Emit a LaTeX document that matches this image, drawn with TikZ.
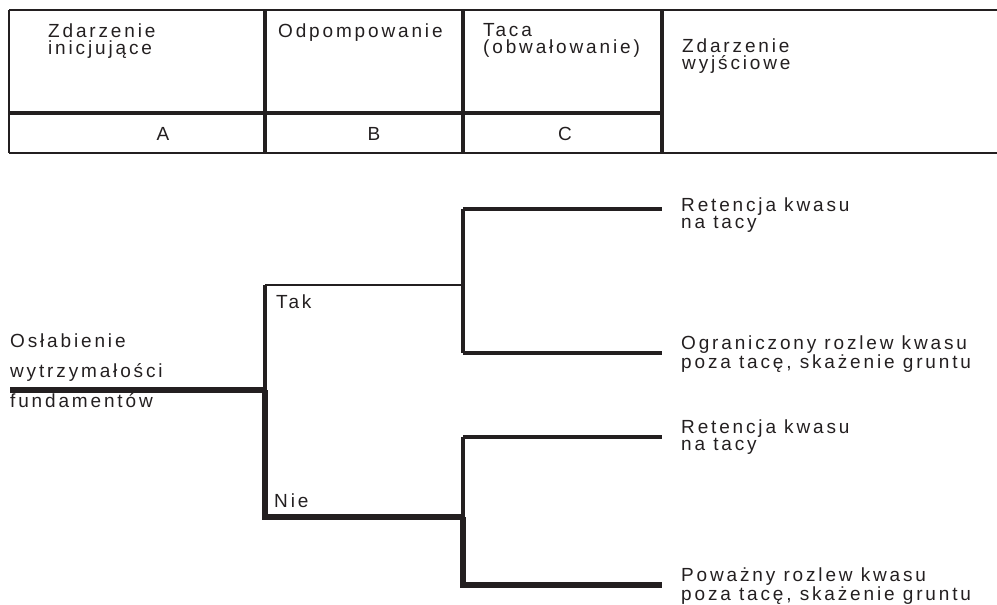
\documentclass[tikz,border=0pt]{standalone}
\usepackage{fontspec}
\usepackage{tikz}
\usetikzlibrary{positioning}
\newfontfamily\treefont{Liberation Sans}[LetterSpace=15]
\definecolor{ink}{HTML}{231F20}

\begin{document}
\begin{tikzpicture}[x=1pt, y=-1pt,
    txt/.style={inner sep=0pt, anchor=base west, align=left, text=ink,
      font=\treefont\fontsize{19}{17}\selectfont},
    thinline/.style={draw=ink, line width=2pt},
    midline/.style={draw=ink, line width=3.2pt},
    boldline/.style={draw=ink, line width=5.5pt}]
  \useasboundingbox (0,0) rectangle (997,605);

  % Header table
  \draw[thinline] (9,10) -- (997,10);
  \draw[thinline] (9,153) -- (997,153);
  \draw[thinline] (9,10) -- (9,153);
  \draw[midline] (9,113) -- (662,113);
  \foreach \xc in {265,463,662}
    \draw[midline] (\xc,10) -- (\xc,153);

  % (multi-line nodes sit on the baseline of their last line)
  \node[txt] (hA) at (48,54) {Zdarzenie\\inicjujące};
  \node[txt] (hB) at (278,37) {Odpompowanie};
  \node[txt] (hC) at (483,53) {Taca\\(obwałowanie)};
  \node[txt] (hOut) at (682,69) {Zdarzenie\\wyjściowe};
  \node[txt, anchor=base] (lA) at (163,140) {A};
  \node[txt, anchor=base] (lB) at (374,140) {B};
  \node[txt, anchor=base] (lC) at (565,140) {C};

  % Branch points
  \coordinate (root) at (10,390);
  \coordinate (split) at (265,390);
  \coordinate (tak) at (265,285);
  \coordinate (nie) at (265,517);
  \coordinate (takC) at (463,285);
  \coordinate (nieC) at (463,517);
  \coordinate (tt) at (463,209);
  \coordinate (tn) at (463,353);
  \coordinate (nt) at (463,437);
  \coordinate (nn) at (463,585);
  \coordinate (out1) at (662,209);
  \coordinate (out2) at (662,353);
  \coordinate (out3) at (662,437);
  \coordinate (out4) at (662,585);

  % Tree
  \draw[boldline] (root) -- (split);
  \draw[midline] (split) -- (tak);
  \draw[thinline] (tak) -- (takC);
  \draw[boldline] (split) -- (nie) -- (nieC);
  \draw[midline] (tt) -- (tn);
  \draw[midline] (tt) -- (out1);
  \draw[midline] (tn) -- (out2);
  \draw[midline] (nt) -- (nieC);
  \draw[midline] (nt) -- (out3);
  \draw[boldline] (nieC) -- (nn) -- (out4);

  % Labels
  \node[txt] (init1) at (10,347) {Osłabienie};
  \node[txt] (init2) at (10,377) {wytrzymałości};
  \node[txt] (init3) at (10,407) {fundamentów};
  \node[txt] (ltak) at (276,308) {Tak};
  \node[txt] (lnie) at (274,507) {Nie};

  \node[txt] (res1) at (681,228) {Retencja kwasu\\na tacy};
  \node[txt] (res2) at (681,368) {Ograniczony rozlew kwasu\\poza tacę, skażenie gruntu};
  \node[txt] (res3) at (681,450) {Retencja kwasu\\na tacy};
  \node[txt] (res4) at (681,600) {Poważny rozlew kwasu\\poza tacę, skażenie gruntu};
\end{tikzpicture}
\end{document}
